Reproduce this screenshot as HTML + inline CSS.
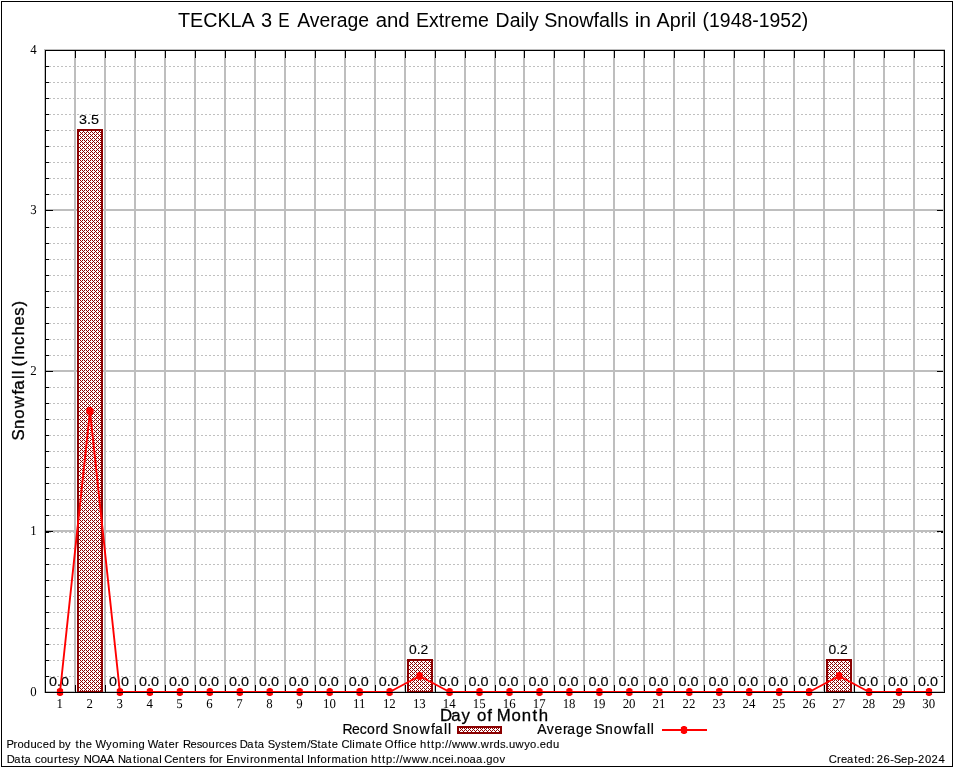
<!DOCTYPE html>
<html lang="en"><head><meta charset="utf-8"><title>TECKLA 3 E Average and Extreme Daily Snowfalls in April (1948-1952)</title>
<style>html,body{margin:0;padding:0;background:#fff}svg{display:block;will-change:transform}text{font-family:"Liberation Sans",sans-serif;fill:#000}.s text{font-family:"Liberation Serif",serif;font-size:13.5px;text-rendering:geometricPrecision}.v{font-size:12.4px;text-anchor:middle;stroke:#000;stroke-width:.12px}.f{font-size:11px}.l{font-size:13.6px}.a{font-size:16.4px}</style></head><body>
<svg width="954" height="768" viewBox="0 0 954 768">
<defs><pattern id="h" width="4" height="4" patternUnits="userSpaceOnUse" shape-rendering="crispEdges"><rect width="4" height="4" fill="#fff"/><g fill="#8b0000"><rect x="0" y="0" width="1" height="1"/><rect x="1" y="1" width="1" height="1"/><rect x="2" y="2" width="1" height="1"/><rect x="3" y="3" width="1" height="1"/><rect x="0" y="2" width="1" height="1"/><rect x="2" y="0" width="1" height="1"/></g></pattern></defs>
<rect width="954" height="768" fill="#fff"/>
<rect x="1.5" y="1.5" width="951" height="765" fill="none" stroke="#000" stroke-width="1" shape-rendering="crispEdges"/>
<g shape-rendering="crispEdges">
<g stroke="#c0c0c0" stroke-width="1" stroke-dasharray="2 2">
<line x1="49" y1="676.5" x2="944" y2="676.5"/>
<line x1="49" y1="660.5" x2="944" y2="660.5"/>
<line x1="49" y1="644.5" x2="944" y2="644.5"/>
<line x1="49" y1="628.5" x2="944" y2="628.5"/>
<line x1="49" y1="612.5" x2="944" y2="612.5"/>
<line x1="49" y1="596.5" x2="944" y2="596.5"/>
<line x1="49" y1="580.5" x2="944" y2="580.5"/>
<line x1="49" y1="564.5" x2="944" y2="564.5"/>
<line x1="49" y1="548.5" x2="944" y2="548.5"/>
<line x1="49" y1="515.5" x2="944" y2="515.5"/>
<line x1="49" y1="499.5" x2="944" y2="499.5"/>
<line x1="49" y1="483.5" x2="944" y2="483.5"/>
<line x1="49" y1="467.5" x2="944" y2="467.5"/>
<line x1="49" y1="451.5" x2="944" y2="451.5"/>
<line x1="49" y1="435.5" x2="944" y2="435.5"/>
<line x1="49" y1="419.5" x2="944" y2="419.5"/>
<line x1="49" y1="403.5" x2="944" y2="403.5"/>
<line x1="49" y1="387.5" x2="944" y2="387.5"/>
<line x1="49" y1="355.5" x2="944" y2="355.5"/>
<line x1="49" y1="339.5" x2="944" y2="339.5"/>
<line x1="49" y1="323.5" x2="944" y2="323.5"/>
<line x1="49" y1="307.5" x2="944" y2="307.5"/>
<line x1="49" y1="291.5" x2="944" y2="291.5"/>
<line x1="49" y1="275.5" x2="944" y2="275.5"/>
<line x1="49" y1="259.5" x2="944" y2="259.5"/>
<line x1="49" y1="243.5" x2="944" y2="243.5"/>
<line x1="49" y1="227.5" x2="944" y2="227.5"/>
<line x1="49" y1="194.5" x2="944" y2="194.5"/>
<line x1="49" y1="178.5" x2="944" y2="178.5"/>
<line x1="49" y1="162.5" x2="944" y2="162.5"/>
<line x1="49" y1="146.5" x2="944" y2="146.5"/>
<line x1="49" y1="130.5" x2="944" y2="130.5"/>
<line x1="49" y1="114.5" x2="944" y2="114.5"/>
<line x1="49" y1="98.5" x2="944" y2="98.5"/>
<line x1="49" y1="82.5" x2="944" y2="82.5"/>
<line x1="49" y1="66.5" x2="944" y2="66.5"/>
<line x1="49" y1="532.5" x2="944" y2="532.5"/>
</g>
<g fill="#bebebe">
<rect x="44" y="49" width="2" height="644"/>
<rect x="74" y="49" width="2" height="644"/>
<rect x="104" y="49" width="2" height="644"/>
<rect x="134" y="49" width="2" height="644"/>
<rect x="164" y="49" width="2" height="644"/>
<rect x="194" y="49" width="2" height="644"/>
<rect x="224" y="49" width="2" height="644"/>
<rect x="254" y="49" width="2" height="644"/>
<rect x="284" y="49" width="2" height="644"/>
<rect x="314" y="49" width="2" height="644"/>
<rect x="344" y="49" width="2" height="644"/>
<rect x="374" y="49" width="2" height="644"/>
<rect x="404" y="49" width="2" height="644"/>
<rect x="434" y="49" width="2" height="644"/>
<rect x="464" y="49" width="2" height="644"/>
<rect x="494" y="49" width="2" height="644"/>
<rect x="523" y="49" width="2" height="644"/>
<rect x="553" y="49" width="2" height="644"/>
<rect x="583" y="49" width="2" height="644"/>
<rect x="613" y="49" width="2" height="644"/>
<rect x="643" y="49" width="2" height="644"/>
<rect x="673" y="49" width="2" height="644"/>
<rect x="703" y="49" width="2" height="644"/>
<rect x="733" y="49" width="2" height="644"/>
<rect x="763" y="49" width="2" height="644"/>
<rect x="793" y="49" width="2" height="644"/>
<rect x="823" y="49" width="2" height="644"/>
<rect x="853" y="49" width="2" height="644"/>
<rect x="883" y="49" width="2" height="644"/>
<rect x="913" y="49" width="2" height="644"/>
<rect x="943" y="49" width="2" height="644"/>
<rect x="44" y="691" width="901" height="2"/>
<rect x="44" y="530" width="901" height="2"/>
<rect x="44" y="370" width="901" height="2"/>
<rect x="44" y="209" width="901" height="2"/>
<rect x="44" y="49" width="901" height="2"/>
</g>
</g>
<g fill="url(#h)" stroke="#8b0000" stroke-width="2" shape-rendering="crispEdges">
<rect x="78" y="130" width="24" height="562"/>
<rect x="408" y="660" width="24" height="32"/>
<rect x="827" y="660" width="24" height="32"/>
</g>
<g class="v">
<text x="59.1" y="686.0" textLength="20" lengthAdjust="spacingAndGlyphs">0.0</text>
<text x="89.0" y="124.2" textLength="20" lengthAdjust="spacingAndGlyphs">3.5</text>
<text x="119.0" y="686.0" textLength="20" lengthAdjust="spacingAndGlyphs">0.0</text>
<text x="149.0" y="686.0" textLength="20" lengthAdjust="spacingAndGlyphs">0.0</text>
<text x="178.9" y="686.0" textLength="20" lengthAdjust="spacingAndGlyphs">0.0</text>
<text x="208.9" y="686.0" textLength="20" lengthAdjust="spacingAndGlyphs">0.0</text>
<text x="238.9" y="686.0" textLength="20" lengthAdjust="spacingAndGlyphs">0.0</text>
<text x="268.9" y="686.0" textLength="20" lengthAdjust="spacingAndGlyphs">0.0</text>
<text x="298.8" y="686.0" textLength="20" lengthAdjust="spacingAndGlyphs">0.0</text>
<text x="328.8" y="686.0" textLength="20" lengthAdjust="spacingAndGlyphs">0.0</text>
<text x="358.8" y="686.0" textLength="20" lengthAdjust="spacingAndGlyphs">0.0</text>
<text x="388.7" y="686.0" textLength="20" lengthAdjust="spacingAndGlyphs">0.0</text>
<text x="418.7" y="653.9" textLength="19.3" lengthAdjust="spacingAndGlyphs">0.2</text>
<text x="448.7" y="686.0" textLength="20" lengthAdjust="spacingAndGlyphs">0.0</text>
<text x="478.6" y="686.0" textLength="20" lengthAdjust="spacingAndGlyphs">0.0</text>
<text x="508.6" y="686.0" textLength="20" lengthAdjust="spacingAndGlyphs">0.0</text>
<text x="538.6" y="686.0" textLength="20" lengthAdjust="spacingAndGlyphs">0.0</text>
<text x="568.5" y="686.0" textLength="20" lengthAdjust="spacingAndGlyphs">0.0</text>
<text x="598.5" y="686.0" textLength="20" lengthAdjust="spacingAndGlyphs">0.0</text>
<text x="628.5" y="686.0" textLength="20" lengthAdjust="spacingAndGlyphs">0.0</text>
<text x="658.4" y="686.0" textLength="20" lengthAdjust="spacingAndGlyphs">0.0</text>
<text x="688.4" y="686.0" textLength="20" lengthAdjust="spacingAndGlyphs">0.0</text>
<text x="718.4" y="686.0" textLength="20" lengthAdjust="spacingAndGlyphs">0.0</text>
<text x="748.3" y="686.0" textLength="20" lengthAdjust="spacingAndGlyphs">0.0</text>
<text x="778.3" y="686.0" textLength="20" lengthAdjust="spacingAndGlyphs">0.0</text>
<text x="808.2" y="686.0" textLength="20" lengthAdjust="spacingAndGlyphs">0.0</text>
<text x="838.2" y="653.9" textLength="19.3" lengthAdjust="spacingAndGlyphs">0.2</text>
<text x="868.2" y="686.0" textLength="20" lengthAdjust="spacingAndGlyphs">0.0</text>
<text x="898.1" y="686.0" textLength="20" lengthAdjust="spacingAndGlyphs">0.0</text>
<text x="928.1" y="686.0" textLength="20" lengthAdjust="spacingAndGlyphs">0.0</text>
</g>
<g fill="#000" shape-rendering="crispEdges">
<rect x="75" y="685" width="1" height="7"/>
<rect x="105" y="685" width="1" height="7"/>
<rect x="135" y="685" width="1" height="7"/>
<rect x="165" y="685" width="1" height="7"/>
<rect x="195" y="685" width="1" height="7"/>
<rect x="225" y="685" width="1" height="7"/>
<rect x="255" y="685" width="1" height="7"/>
<rect x="285" y="685" width="1" height="7"/>
<rect x="315" y="685" width="1" height="7"/>
<rect x="345" y="685" width="1" height="7"/>
<rect x="375" y="685" width="1" height="7"/>
<rect x="405" y="685" width="1" height="7"/>
<rect x="435" y="685" width="1" height="7"/>
<rect x="465" y="685" width="1" height="7"/>
<rect x="495" y="685" width="1" height="7"/>
<rect x="524" y="685" width="1" height="7"/>
<rect x="554" y="685" width="1" height="7"/>
<rect x="584" y="685" width="1" height="7"/>
<rect x="614" y="685" width="1" height="7"/>
<rect x="644" y="685" width="1" height="7"/>
<rect x="674" y="685" width="1" height="7"/>
<rect x="704" y="685" width="1" height="7"/>
<rect x="734" y="685" width="1" height="7"/>
<rect x="764" y="685" width="1" height="7"/>
<rect x="794" y="685" width="1" height="7"/>
<rect x="824" y="685" width="1" height="7"/>
<rect x="854" y="685" width="1" height="7"/>
<rect x="884" y="685" width="1" height="7"/>
<rect x="914" y="685" width="1" height="7"/>
</g>
<polyline points="60.0,692.0 90.0,411.1 119.9,692.0 149.9,692.0 179.8,692.0 209.8,692.0 239.8,692.0 269.8,692.0 299.7,692.0 329.7,692.0 359.6,692.0 389.6,692.0 419.6,676.0 449.6,692.0 479.5,692.0 509.5,692.0 539.5,692.0 569.4,692.0 599.4,692.0 629.4,692.0 659.3,692.0 689.3,692.0 719.2,692.0 749.2,692.0 779.2,692.0 809.1,692.0 839.1,676.0 869.1,692.0 899.0,692.0 929.0,692.0" fill="none" stroke="#ff0000" stroke-width="1.9" stroke-linejoin="round"/>
<g fill="#ff0000">
<polygon points="59.0,688.0 61.0,688.0 63.1,689.2 63.1,694.8 61.0,696.0 59.0,696.0 56.9,694.8 56.9,689.2"/>
<polygon points="89.0,407.1 91.0,407.1 93.0,408.3 93.0,413.9 91.0,415.1 89.0,415.1 86.9,413.9 86.9,408.3"/>
<polygon points="118.9,688.0 120.9,688.0 123.0,689.2 123.0,694.8 120.9,696.0 118.9,696.0 116.8,694.8 116.8,689.2"/>
<polygon points="148.9,688.0 150.9,688.0 153.0,689.2 153.0,694.8 150.9,696.0 148.9,696.0 146.8,694.8 146.8,689.2"/>
<polygon points="178.8,688.0 180.8,688.0 182.9,689.2 182.9,694.8 180.8,696.0 178.8,696.0 176.8,694.8 176.8,689.2"/>
<polygon points="208.8,688.0 210.8,688.0 212.9,689.2 212.9,694.8 210.8,696.0 208.8,696.0 206.7,694.8 206.7,689.2"/>
<polygon points="238.8,688.0 240.8,688.0 242.9,689.2 242.9,694.8 240.8,696.0 238.8,696.0 236.7,694.8 236.7,689.2"/>
<polygon points="268.8,688.0 270.8,688.0 272.9,689.2 272.9,694.8 270.8,696.0 268.8,696.0 266.6,694.8 266.6,689.2"/>
<polygon points="298.7,688.0 300.7,688.0 302.8,689.2 302.8,694.8 300.7,696.0 298.7,696.0 296.6,694.8 296.6,689.2"/>
<polygon points="328.7,688.0 330.7,688.0 332.8,689.2 332.8,694.8 330.7,696.0 328.7,696.0 326.6,694.8 326.6,689.2"/>
<polygon points="358.6,688.0 360.6,688.0 362.8,689.2 362.8,694.8 360.6,696.0 358.6,696.0 356.5,694.8 356.5,689.2"/>
<polygon points="388.6,688.0 390.6,688.0 392.7,689.2 392.7,694.8 390.6,696.0 388.6,696.0 386.5,694.8 386.5,689.2"/>
<polygon points="418.6,672.0 420.6,672.0 422.7,673.2 422.7,678.8 420.6,680.0 418.6,680.0 416.5,678.8 416.5,673.2"/>
<polygon points="448.6,688.0 450.6,688.0 452.7,689.2 452.7,694.8 450.6,696.0 448.6,696.0 446.4,694.8 446.4,689.2"/>
<polygon points="478.5,688.0 480.5,688.0 482.6,689.2 482.6,694.8 480.5,696.0 478.5,696.0 476.4,694.8 476.4,689.2"/>
<polygon points="508.5,688.0 510.5,688.0 512.6,689.2 512.6,694.8 510.5,696.0 508.5,696.0 506.4,694.8 506.4,689.2"/>
<polygon points="538.5,688.0 540.5,688.0 542.6,689.2 542.6,694.8 540.5,696.0 538.5,696.0 536.4,694.8 536.4,689.2"/>
<polygon points="568.4,688.0 570.4,688.0 572.5,689.2 572.5,694.8 570.4,696.0 568.4,696.0 566.3,694.8 566.3,689.2"/>
<polygon points="598.4,688.0 600.4,688.0 602.5,689.2 602.5,694.8 600.4,696.0 598.4,696.0 596.3,694.8 596.3,689.2"/>
<polygon points="628.4,688.0 630.4,688.0 632.5,689.2 632.5,694.8 630.4,696.0 628.4,696.0 626.2,694.8 626.2,689.2"/>
<polygon points="658.3,688.0 660.3,688.0 662.4,689.2 662.4,694.8 660.3,696.0 658.3,696.0 656.2,694.8 656.2,689.2"/>
<polygon points="688.3,688.0 690.3,688.0 692.4,689.2 692.4,694.8 690.3,696.0 688.3,696.0 686.2,694.8 686.2,689.2"/>
<polygon points="718.2,688.0 720.2,688.0 722.4,689.2 722.4,694.8 720.2,696.0 718.2,696.0 716.1,694.8 716.1,689.2"/>
<polygon points="748.2,688.0 750.2,688.0 752.3,689.2 752.3,694.8 750.2,696.0 748.2,696.0 746.1,694.8 746.1,689.2"/>
<polygon points="778.2,688.0 780.2,688.0 782.3,689.2 782.3,694.8 780.2,696.0 778.2,696.0 776.1,694.8 776.1,689.2"/>
<polygon points="808.1,688.0 810.1,688.0 812.2,689.2 812.2,694.8 810.1,696.0 808.1,696.0 806.0,694.8 806.0,689.2"/>
<polygon points="838.1,672.0 840.1,672.0 842.2,673.2 842.2,678.8 840.1,680.0 838.1,680.0 836.0,678.8 836.0,673.2"/>
<polygon points="868.1,688.0 870.1,688.0 872.2,689.2 872.2,694.8 870.1,696.0 868.1,696.0 866.0,694.8 866.0,689.2"/>
<polygon points="898.0,688.0 900.0,688.0 902.1,689.2 902.1,694.8 900.0,696.0 898.0,696.0 895.9,694.8 895.9,689.2"/>
<polygon points="928.0,688.0 930.0,688.0 932.1,689.2 932.1,694.8 930.0,696.0 928.0,696.0 925.9,694.8 925.9,689.2"/>
<circle cx="90.0" cy="411.1" r="3.8"/>
</g>
<g fill="#000" shape-rendering="crispEdges">
<rect x="45" y="50" width="900" height="1"/><rect x="45" y="692" width="900" height="1"/>
<rect x="45" y="50" width="1" height="643"/><rect x="944" y="50" width="1" height="643"/>
<rect x="75" y="50" width="1" height="8"/>
<rect x="105" y="50" width="1" height="8"/>
<rect x="135" y="50" width="1" height="8"/>
<rect x="165" y="50" width="1" height="8"/>
<rect x="195" y="50" width="1" height="8"/>
<rect x="225" y="50" width="1" height="8"/>
<rect x="255" y="50" width="1" height="8"/>
<rect x="285" y="50" width="1" height="8"/>
<rect x="315" y="50" width="1" height="8"/>
<rect x="345" y="50" width="1" height="8"/>
<rect x="375" y="50" width="1" height="8"/>
<rect x="405" y="50" width="1" height="8"/>
<rect x="435" y="50" width="1" height="8"/>
<rect x="465" y="50" width="1" height="8"/>
<rect x="495" y="50" width="1" height="8"/>
<rect x="524" y="50" width="1" height="8"/>
<rect x="554" y="50" width="1" height="8"/>
<rect x="584" y="50" width="1" height="8"/>
<rect x="614" y="50" width="1" height="8"/>
<rect x="644" y="50" width="1" height="8"/>
<rect x="674" y="50" width="1" height="8"/>
<rect x="704" y="50" width="1" height="8"/>
<rect x="734" y="50" width="1" height="8"/>
<rect x="764" y="50" width="1" height="8"/>
<rect x="794" y="50" width="1" height="8"/>
<rect x="824" y="50" width="1" height="8"/>
<rect x="854" y="50" width="1" height="8"/>
<rect x="884" y="50" width="1" height="8"/>
<rect x="914" y="50" width="1" height="8"/>
<rect x="45" y="531" width="8" height="1"/><rect x="937" y="531" width="6" height="1"/>
<rect x="45" y="371" width="8" height="1"/><rect x="937" y="371" width="6" height="1"/>
<rect x="45" y="210" width="8" height="1"/><rect x="937" y="210" width="6" height="1"/>
<rect x="45" y="676" width="4" height="1"/><rect x="941" y="676" width="2" height="1"/>
<rect x="45" y="660" width="4" height="1"/><rect x="941" y="660" width="2" height="1"/>
<rect x="45" y="644" width="4" height="1"/><rect x="941" y="644" width="2" height="1"/>
<rect x="45" y="628" width="4" height="1"/><rect x="941" y="628" width="2" height="1"/>
<rect x="45" y="612" width="4" height="1"/><rect x="941" y="612" width="2" height="1"/>
<rect x="45" y="596" width="4" height="1"/><rect x="941" y="596" width="2" height="1"/>
<rect x="45" y="580" width="4" height="1"/><rect x="941" y="580" width="2" height="1"/>
<rect x="45" y="564" width="4" height="1"/><rect x="941" y="564" width="2" height="1"/>
<rect x="45" y="548" width="4" height="1"/><rect x="941" y="548" width="2" height="1"/>
<rect x="45" y="515" width="4" height="1"/><rect x="941" y="515" width="2" height="1"/>
<rect x="45" y="499" width="4" height="1"/><rect x="941" y="499" width="2" height="1"/>
<rect x="45" y="483" width="4" height="1"/><rect x="941" y="483" width="2" height="1"/>
<rect x="45" y="467" width="4" height="1"/><rect x="941" y="467" width="2" height="1"/>
<rect x="45" y="451" width="4" height="1"/><rect x="941" y="451" width="2" height="1"/>
<rect x="45" y="435" width="4" height="1"/><rect x="941" y="435" width="2" height="1"/>
<rect x="45" y="419" width="4" height="1"/><rect x="941" y="419" width="2" height="1"/>
<rect x="45" y="403" width="4" height="1"/><rect x="941" y="403" width="2" height="1"/>
<rect x="45" y="387" width="4" height="1"/><rect x="941" y="387" width="2" height="1"/>
<rect x="45" y="355" width="4" height="1"/><rect x="941" y="355" width="2" height="1"/>
<rect x="45" y="339" width="4" height="1"/><rect x="941" y="339" width="2" height="1"/>
<rect x="45" y="323" width="4" height="1"/><rect x="941" y="323" width="2" height="1"/>
<rect x="45" y="307" width="4" height="1"/><rect x="941" y="307" width="2" height="1"/>
<rect x="45" y="291" width="4" height="1"/><rect x="941" y="291" width="2" height="1"/>
<rect x="45" y="275" width="4" height="1"/><rect x="941" y="275" width="2" height="1"/>
<rect x="45" y="259" width="4" height="1"/><rect x="941" y="259" width="2" height="1"/>
<rect x="45" y="243" width="4" height="1"/><rect x="941" y="243" width="2" height="1"/>
<rect x="45" y="227" width="4" height="1"/><rect x="941" y="227" width="2" height="1"/>
<rect x="45" y="194" width="4" height="1"/><rect x="941" y="194" width="2" height="1"/>
<rect x="45" y="178" width="4" height="1"/><rect x="941" y="178" width="2" height="1"/>
<rect x="45" y="162" width="4" height="1"/><rect x="941" y="162" width="2" height="1"/>
<rect x="45" y="146" width="4" height="1"/><rect x="941" y="146" width="2" height="1"/>
<rect x="45" y="130" width="4" height="1"/><rect x="941" y="130" width="2" height="1"/>
<rect x="45" y="114" width="4" height="1"/><rect x="941" y="114" width="2" height="1"/>
<rect x="45" y="98" width="4" height="1"/><rect x="941" y="98" width="2" height="1"/>
<rect x="45" y="82" width="4" height="1"/><rect x="941" y="82" width="2" height="1"/>
<rect x="45" y="66" width="4" height="1"/><rect x="941" y="66" width="2" height="1"/>
<rect x="45" y="532" width="4" height="1"/><rect x="941" y="532" width="2" height="1"/>
</g>
<g class="s" text-anchor="middle">
<text transform="translate(59.7 708) scale(0.95 1)">1</text>
<text transform="translate(89.7 708) scale(0.95 1)">2</text>
<text transform="translate(119.6 708) scale(0.95 1)">3</text>
<text transform="translate(149.6 708) scale(0.95 1)">4</text>
<text transform="translate(179.5 708) scale(0.95 1)">5</text>
<text transform="translate(209.5 708) scale(0.95 1)">6</text>
<text transform="translate(239.5 708) scale(0.95 1)">7</text>
<text transform="translate(269.4 708) scale(0.95 1)">8</text>
<text transform="translate(299.4 708) scale(0.95 1)">9</text>
<text transform="translate(329.4 708) scale(0.95 1)">10</text>
<text transform="translate(359.3 708) scale(0.95 1)">11</text>
<text transform="translate(389.3 708) scale(0.95 1)">12</text>
<text transform="translate(419.3 708) scale(0.95 1)">13</text>
<text transform="translate(449.2 708) scale(0.95 1)">14</text>
<text transform="translate(479.2 708) scale(0.95 1)">15</text>
<text transform="translate(509.2 708) scale(0.95 1)">16</text>
<text transform="translate(539.2 708) scale(0.95 1)">17</text>
<text transform="translate(569.1 708) scale(0.95 1)">18</text>
<text transform="translate(599.1 708) scale(0.95 1)">19</text>
<text transform="translate(629.1 708) scale(0.95 1)">20</text>
<text transform="translate(659.0 708) scale(0.95 1)">21</text>
<text transform="translate(689.0 708) scale(0.95 1)">22</text>
<text transform="translate(719.0 708) scale(0.95 1)">23</text>
<text transform="translate(748.9 708) scale(0.95 1)">24</text>
<text transform="translate(778.9 708) scale(0.95 1)">25</text>
<text transform="translate(808.9 708) scale(0.95 1)">26</text>
<text transform="translate(838.8 708) scale(0.95 1)">27</text>
<text transform="translate(868.8 708) scale(0.95 1)">28</text>
<text transform="translate(898.8 708) scale(0.95 1)">29</text>
<text transform="translate(928.7 708) scale(0.95 1)">30</text>
</g>
<g class="s" text-anchor="end">
<text transform="translate(36.6 696) scale(0.95 1)">0</text>
<text transform="translate(36.6 535) scale(0.95 1)">1</text>
<text transform="translate(36.6 375) scale(0.95 1)">2</text>
<text transform="translate(36.6 214) scale(0.95 1)">3</text>
<text transform="translate(36.6 54) scale(0.95 1)">4</text>
</g>
<text y="27" font-size="20px"><tspan x="177.9" textLength="75.8" lengthAdjust="spacingAndGlyphs">TECKLA</tspan> <tspan x="260.9" textLength="11.1" lengthAdjust="spacingAndGlyphs">3</tspan> <tspan x="278.3" textLength="11.4" lengthAdjust="spacingAndGlyphs">E</tspan> <tspan x="297.3" textLength="71.7" lengthAdjust="spacingAndGlyphs">Average</tspan> <tspan x="375.7" textLength="34.0" lengthAdjust="spacingAndGlyphs">and</tspan> <tspan x="416.0" textLength="72.8" lengthAdjust="spacingAndGlyphs">Extreme</tspan> <tspan x="495.6" textLength="43.2" lengthAdjust="spacingAndGlyphs">Daily</tspan> <tspan x="544.2" textLength="84.4" lengthAdjust="spacingAndGlyphs">Snowfalls</tspan> <tspan x="634.7" textLength="16.4" lengthAdjust="spacingAndGlyphs">in</tspan> <tspan x="656.6" textLength="39.5" lengthAdjust="spacingAndGlyphs">April</tspan> <tspan x="702.6" textLength="105.7" lengthAdjust="spacingAndGlyphs">(1948-1952)</tspan></text>
<text font-size="16.8px" stroke="#000" stroke-width="0.31" y="720.5"><tspan x="439.9 451.3 461.6">Day</tspan> <tspan x="476.9 487.3">of</tspan> <tspan x="496.8 511.4 521.8 532.6 538.8">Month</tspan></text>
<text font-size="16.8px" stroke="#000" stroke-width="0.31" y="0" transform="translate(24 439.1) rotate(-90)"><tspan x="-1.3 10.1 20.4 30.8 44.5 49.4 60.2 64.8">Snowfall</tspan> <tspan x="72.6 79.1 84.3 94.1 103.5 113.6 123.4 132.5">(Inches)</tspan></text>
<text font-size="14.0px" stroke="#000" stroke-width="0.21" y="733.5"><tspan x="342.5 351.9 359.7 367.0 375.4 380.3">Record</tspan> <tspan x="392.6 402.2 410.8 419.6 431.0 435.1 444.1 448.0">Snowfall</tspan></text>
<rect x="458" y="727" width="43" height="6" fill="url(#h)" stroke="#8b0000" stroke-width="2" shape-rendering="crispEdges"/>
<text font-size="14.0px" stroke="#000" stroke-width="0.21" y="733.5"><tspan x="537.3 546.8 554.4 562.9 567.3 575.9 584.2">Average</tspan> <tspan x="595.6 605.1 613.7 622.4 633.8 637.9 646.9 650.7">Snowfall</tspan></text>
<line x1="662" y1="730" x2="707" y2="730" stroke="#ff0000" stroke-width="2"/>
<g fill="#ff0000"><polygon points="683.0,726.0 685.0,726.0 687.1,727.2 687.1,732.8 685.0,734.0 683.0,734.0 680.9,732.8 680.9,727.2"/></g>
<text font-size="11.2px" stroke="#000" stroke-width="0.11" y="748"><tspan x="6.4 13.5 17.4 23.8 30.5 36.8 42.7 49.2">Produced</tspan> <tspan x="58.8 64.9">by</tspan> <tspan x="75.4 79.3 85.8">the</tspan> <tspan x="95.4 106.1 112.2 119.0 128.9 131.9 138.4">Wyoming</tspan> <tspan x="147.8 157.8 164.8 168.5 175.1">Water</tspan> <tspan x="182.9 190.4 196.7 202.1 208.5 215.4 219.1 225.0 231.2">Resources</tspan> <tspan x="239.7 247.3 254.4 257.7">Data</tspan> <tspan x="267.7 275.0 280.9 286.8 290.5 297.3 307.2 310.1 317.5 320.9 328.0 331.8">System/State</tspan> <tspan x="341.5 349.5 352.3 355.4 364.8 371.9 375.7">Climate</tspan> <tspan x="384.7 393.9 397.7 401.3 404.1 410.3">Office</tspan> <tspan x="420.0 426.9 431.0 434.9 441.4">http:</tspan><tspan x="444.9 448.4 452.0 460.5 469.0 477.4 480.8 489.6 493.5 500.0 505.5 508.9 515.6 524.2 530.1 536.5 539.8 546.3 552.9">//www.wrds.uwyo.edu</tspan></text>
<text font-size="11.2px" stroke="#000" stroke-width="0.11" y="763"><tspan x="6.7 14.3 21.3 24.5">Data</tspan> <tspan x="34.9 40.7 47.1 54.0 58.3 62.0 68.2 73.9">courtesy</tspan> <tspan x="83.7 91.4 99.7 106.8">NOAA</tspan> <tspan x="118.0 125.6 132.9 136.7 139.5 146.1 152.2 159.2">National</tspan> <tspan x="164.3 172.2 178.7 185.6 189.4 196.2 200.1">Centers</tspan> <tspan x="209.4 212.4 218.7">for</tspan> <tspan x="226.3 233.7 240.5 246.6 249.9 253.8 260.4 267.4 277.4 284.0 290.9 294.3 301.3">Environmental</tspan> <tspan x="307.0 310.3 317.1 320.5 327.2 331.5 340.9 348.1 352.0 354.8 361.3">Information</tspan> <tspan x="371.1 377.9 382.0 385.9 392.5">http:</tspan><tspan x="396.0 399.6 403.1 411.7 420.2 428.7 432.1 438.5 444.4 450.9 453.7 457.1 463.6 469.6 476.0 482.9 486.2 492.8 499.4">//www.ncei.noaa.gov</tspan></text>
<text font-size="11.2px" stroke="#000" stroke-width="0.11" y="763"><tspan x="828.7 837.0 841.0 847.0 854.2 858.0 864.6 871.3">Created:</tspan> <tspan x="876.7 883.6 890.2 893.7 900.9 907.6 914.1 918.0 924.9 931.5 938.4">26-Sep-2024</tspan></text>
</svg></body></html>
